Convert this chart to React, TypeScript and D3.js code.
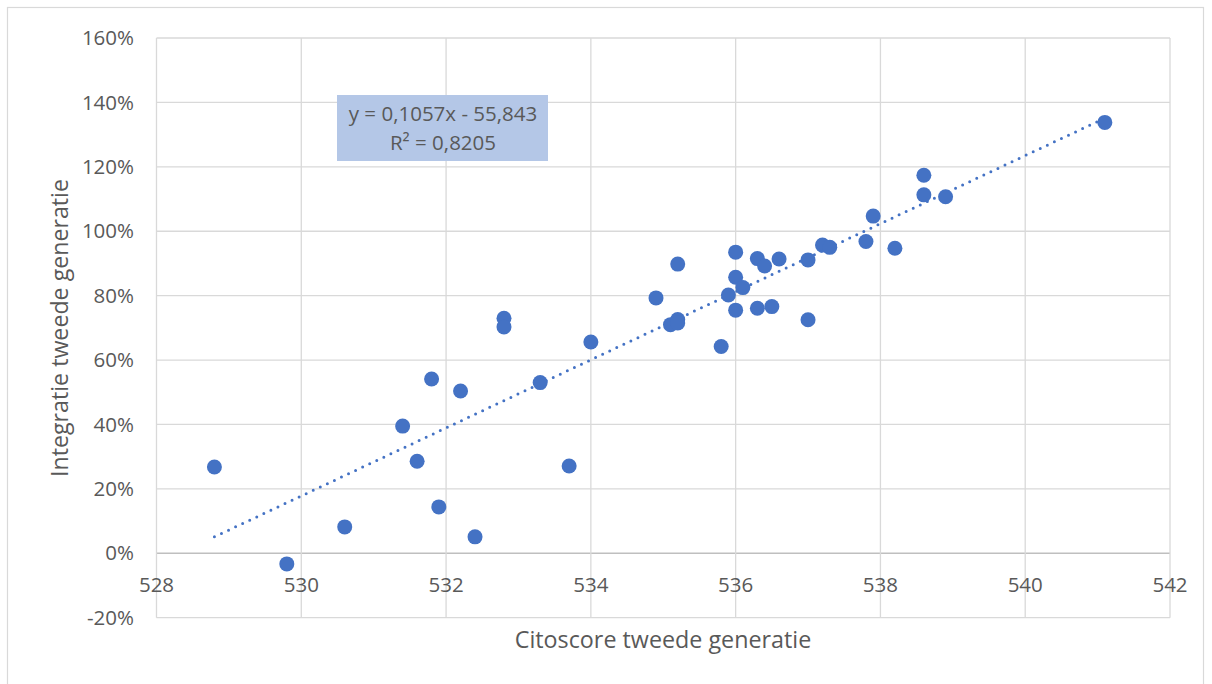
import React from "react";
import * as d3 from "d3";

const xValues = [528.8, 529.8, 530.6, 531.4, 531.6, 531.8, 531.9, 532.2, 532.4, 532.8, 532.8, 533.3, 533.7, 534.0, 534.9, 535.1, 535.2, 535.2, 535.2, 535.8, 535.9, 536.0, 536.0, 536.0, 536.1, 536.3, 536.3, 536.4, 536.5, 536.6, 537.0, 537.0, 537.2, 537.3, 537.8, 537.9, 538.2, 538.6, 538.6, 538.9, 541.1];
const yValues = [0.268, -0.033, 0.082, 0.395, 0.286, 0.541, 0.144, 0.504, 0.051, 0.73, 0.703, 0.53, 0.271, 0.656, 0.793, 0.71, 0.726, 0.715, 0.898, 0.642, 0.802, 0.935, 0.857, 0.755, 0.825, 0.915, 0.761, 0.892, 0.766, 0.914, 0.911, 0.725, 0.957, 0.95, 0.968, 1.047, 0.947, 1.174, 1.113, 1.107, 1.338];
const xTicks = [528, 530, 532, 534, 536, 538, 540, 542];
const yTicks = [-0.2, 0, 0.2, 0.4, 0.6, 0.8, 1.0, 1.2, 1.4, 1.6];
const slope = 0.1057;
const intercept = -55.843;
const equationLines = ["y = 0,1057x - 55,843", "R² = 0,8205"];
const xTitle = "Citoscore tweede generatie";
const yTitle = "Integratie tweede generatie";

const W = 1212;
const H = 684;
const left = 156.5, right = 1170, top = 38, bottom = 617.7;
const font = "'Open Sans', 'Liberation Sans', sans-serif";

export default function App() {
  const x = d3.scaleLinear().domain([528, 542]).range([left, right]);
  const y = d3.scaleLinear().domain([-0.2, 1.6]).range([bottom, top]);
  const xMin = d3.min(xValues)!;
  const xMax = d3.max(xValues)!;
  const trend = [xMin, xMax].map((v) => [x(v), y(slope * v + intercept)] as [number, number]);
  const line = d3.line();
  return (
    <svg width={W} height={H} style={{ position: "absolute", left: 0, top: 0, background: "#fff" }}>
      <rect x={7.5} y={7.5} width={1196} height={700} fill="#fff" stroke="#d9d9d9" strokeWidth={1.2} />
      {yTicks.map((t) => (
        <line key={"gy" + t} x1={left} x2={right} y1={y(t)} y2={y(t)} stroke={t === 0 ? "#bfbfbf" : "#d9d9d9"} strokeWidth={t === 0 ? 1.6 : 1.3} />
      ))}
      {xTicks.map((t) => (
        <line key={"gx" + t} x1={x(t)} x2={x(t)} y1={top} y2={bottom} stroke="#d9d9d9" strokeWidth={1.3} />
      ))}
      {yTicks.map((t) => (
        <text key={"ty" + t} x={134} y={y(t)} dy="0.35em" textAnchor="end" fontFamily={font} fontSize={20.5} fill="#595959">
          {d3.format(".0%")(t).replace("−", "-")}
        </text>
      ))}
      {xTicks.map((t) => (
        <text key={"tx" + t} x={x(t)} y={585} dy="0.35em" textAnchor="middle" fontFamily={font} fontSize={20.5} fill="#595959">
          {t}
        </text>
      ))}
      <text x={663} y={640} dy="0.35em" textAnchor="middle" fontFamily={font} fontSize={23.3} fill="#595959">{xTitle}</text>
      <text transform={`translate(60,328) rotate(-90)`} dy="0.35em" textAnchor="middle" fontFamily={font} fontSize={23.2} fill="#595959">{yTitle}</text>
      <path d={line(trend)!} stroke="#4472C4" strokeWidth={3} strokeDasharray="0 7.8" strokeLinecap="round" fill="none" />
      {xValues.map((v, i) => (
        <circle key={i} cx={x(v)} cy={y(yValues[i])} r={7.5} fill="#4472C4" />
      ))}
      <rect x={337} y={95} width={211} height={66} fill="#B4C7E7" />
      {equationLines.map((s, i) => (
        <text key={s} x={443} y={114 + i * 29} dy="0.35em" textAnchor="middle" fontFamily={font} fontSize={20.5} fill="#595959">{s}</text>
      ))}
    </svg>
  );
}
